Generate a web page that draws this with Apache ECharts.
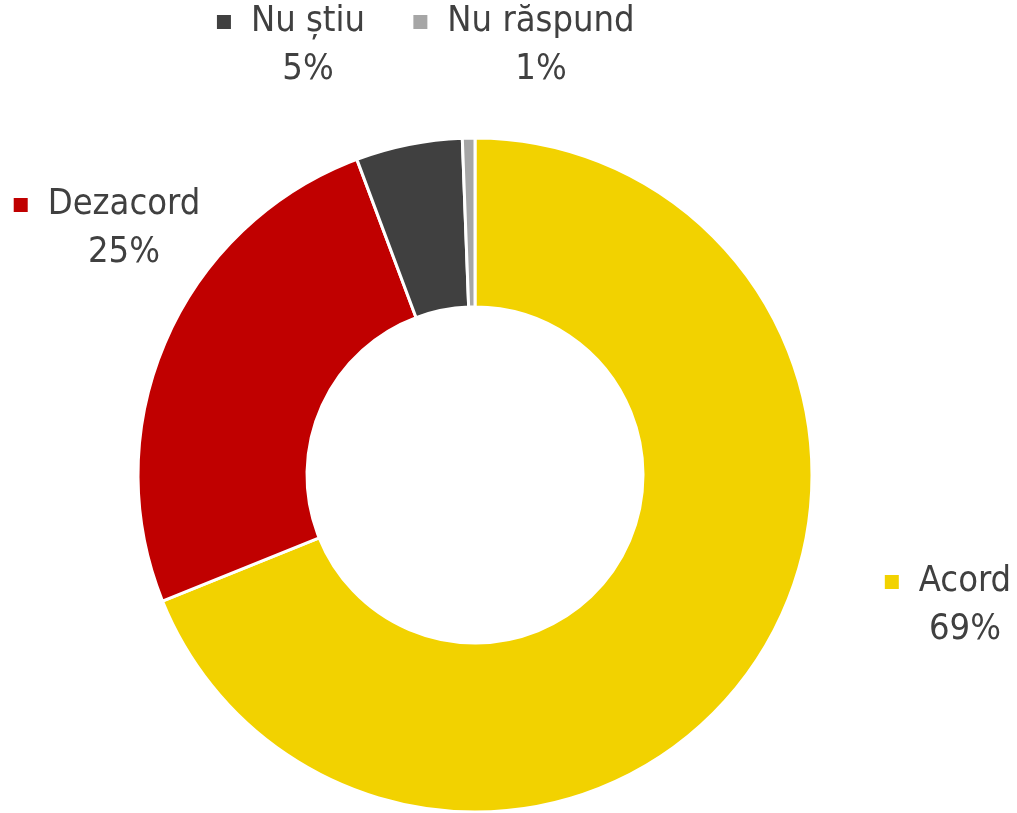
<!DOCTYPE html>
<html>
<head>
<meta charset="utf-8">
<script src="https://cdn.jsdelivr.net/npm/echarts@6/dist/echarts.min.js"></script>
<style>
  html, body { margin: 0; padding: 0; background: #fff; }
  #main { width: 1017px; height: 813px; }
</style>
</head>
<body>
<div id="main"></div>
<script>
// datele graficului
var categories = ['Acord', 'Dezacord', 'Nu știu', 'Nu răspund'];
var values = [68.9, 25.4, 5.1, 0.6];
var colors = ['#F2D200', '#C00000', '#404040', '#A6A6A6'];

// pozitiile etichetelor (centrul blocului de text)
var labelPos = [[948, 606], [107, 229], [291, 46], [524, 46]];

var myChart = echarts.init(document.getElementById('main'));

var seriesData = categories.map(function (name, i) {
  return {
    name: name,
    value: values[i],
    itemStyle: { color: colors[i] },
    label: {
      rich: {
        m: { width: 14, height: 14, backgroundColor: colors[i], padding: 0 }
      }
    }
  };
});

var option = {
  animation: false,
  series: [{
    type: 'pie',
    center: [475, 475],
    radius: [168, 337],
    startAngle: 90,
    clockwise: true,
    data: seriesData,
    itemStyle: { borderColor: '#fff', borderWidth: 3 },
    labelLine: { show: false },
    label: {
      show: true,
      position: 'outside',
      overflow: 'none',
      width: 300,
      fontFamily: 'DejaVu Sans Condensed',
      fontSize: 36,
      color: '#404040',
      lineHeight: 48,
      align: 'center',
      formatter: function (p) {
        return '{m|}{n|' + p.name + '}\n{p|' + Math.round(p.value) + '%}';
      },
      rich: {
        n: { fontFamily: 'DejaVu Sans Condensed', fontSize: 36, color: '#404040', padding: [0, 0, 0, 20], lineHeight: 48 },
        p: { fontFamily: 'DejaVu Sans Condensed', fontSize: 36, color: '#404040', padding: [0, 0, 0, 34], lineHeight: 48 }
      }
    },
    labelLayout: function (params) {
      var pos = labelPos[params.dataIndex];
      return { x: pos[0], y: pos[1], align: 'center', verticalAlign: 'middle' };
    }
  }]
};

myChart.setOption(option);
</script>
</body>
</html>
